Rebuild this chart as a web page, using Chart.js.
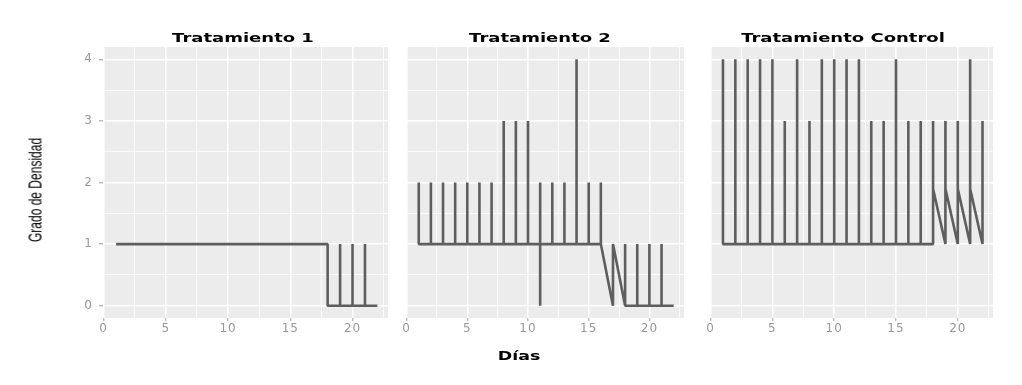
<!DOCTYPE html>
<html>
<head>
<meta charset="utf-8">
<title>Grado de Densidad por tratamiento</title>
<script src="https://cdn.jsdelivr.net/npm/chart.js@4.4.1/dist/chart.umd.min.js"></script>
<style>
  html, body { margin: 0; padding: 0; background: #fff; }
  #wrap { position: relative; width: 1022px; height: 385px; overflow: hidden; }
  canvas { position: absolute; top: 0; }
  .lbl { position: absolute; white-space: nowrap; color: #000; line-height: 16px; }
  .strip { top: 31px; font: bold 12px "DejaVu Sans"; transform: translateX(-50%) scaleX(1.5); }
  #xtitle { left: 519px; top: 349px; font: bold 12px "DejaVu Sans"; transform: translateX(-50%) scaleX(1.45); }
  #ytitle { left: 35px; top: 190px; font: 12px "Liberation Sans"; transform: translate(-50%, -50%) rotate(-90deg) scaleY(1.5); }
</style>
</head>
<body>
<div id="wrap">
  <canvas id="p1" width="400" height="385" style="left:0px"></canvas>
  <canvas id="p2" width="308" height="385" style="left:394px"></canvas>
  <canvas id="p3" width="310" height="385" style="left:698px"></canvas>
  <div class="lbl strip" style="left:243px">Tratamiento 1</div>
  <div class="lbl strip" style="left:540px">Tratamiento 2</div>
  <div class="lbl strip" style="left:843px">Tratamiento Control</div>
  <div class="lbl" id="xtitle">Días</div>
  <div class="lbl" id="ytitle">Grado de Densidad</div>
</div>
<script>
// etiquetas de los ejes
var xTicks = [0, 5, 10, 15, 20];
var yTicks = [0, 1, 2, 3, 4];

// Tratamiento 1
var t1Days = [1, 2, 3, 4, 5, 6, 7, 8, 9, 10, 11, 12, 13, 14, 15, 16, 17, 18, 18,
              19, 19, 19, 20, 20, 20, 21, 21, 21, 22];
var t1Vals = [1, 1, 1, 1, 1, 1, 1, 1, 1, 1, 1, 1, 1, 1, 1, 1, 1, 1, 0,
              0, 1, 0, 0, 1, 0, 0, 1, 0, 0];

// Tratamiento 2
var t2Days = [1, 1, 1, 2, 2, 2, 3, 3, 3, 4, 4, 4, 5, 5, 5, 6, 6, 6, 7, 7, 7,
              8, 8, 8, 9, 9, 9, 10, 10, 10, 11, 11, 11, 11, 12, 12, 12, 13, 13, 13,
              14, 14, 14, 15, 15, 15, 16, 16, 16, 17, 17, 18, 18, 18,
              19, 19, 19, 20, 20, 20, 21, 21, 21, 22];
var t2Vals = [1, 2, 1, 1, 2, 1, 1, 2, 1, 1, 2, 1, 1, 2, 1, 1, 2, 1, 1, 2, 1,
              1, 3, 1, 1, 3, 1, 1, 3, 1, 1, 2, 0, 1, 1, 2, 1, 1, 2, 1,
              1, 4, 1, 1, 2, 1, 1, 2, 1, 0, 1, 0, 1, 0,
              0, 1, 0, 0, 1, 0, 0, 1, 0, 0];

// Tratamiento Control
var tcDays = [1, 1, 1, 2, 2, 2, 3, 3, 3, 4, 4, 4, 5, 5, 5, 6, 6, 6, 7, 7, 7,
              8, 8, 8, 9, 9, 9, 10, 10, 10, 11, 11, 11, 12, 12, 12, 13, 13, 13,
              14, 14, 14, 15, 15, 15, 16, 16, 16, 17, 17, 17,
              18, 18, 18, 19, 19, 19, 20, 20, 20, 21, 21, 21, 22, 22];
var tcVals = [1, 4, 1, 1, 4, 1, 1, 4, 1, 1, 4, 1, 1, 4, 1, 1, 3, 1, 1, 4, 1,
              1, 3, 1, 1, 4, 1, 1, 4, 1, 1, 4, 1, 1, 4, 1, 1, 3, 1,
              1, 3, 1, 1, 4, 1, 1, 3, 1, 1, 3, 1,
              1, 3, 1.9, 1, 3, 1.9, 1, 3, 1.9, 1, 4, 1.9, 1, 3];

// fondo gris del panel
var panelBg = {
    id: 'panelBg',
    beforeDraw: function (chart) {
        var a = chart.chartArea;
        var ctx = chart.ctx;
        ctx.save();
        ctx.fillStyle = '#ececec';
        ctx.fillRect(a.left, a.top, a.right - a.left, a.bottom - a.top);
        ctx.restore();
        ctx.letterSpacing = '1px';
    }
};

function isMajor(v) {
    return Math.abs(v - Math.round(v)) < 1e-6;
}

function makePanel(id, days, vals, withY, padL, padR) {
    var points = [];
    for (var i = 0; i < days.length; i++) {
        points.push({x: days[i], y: vals[i]});
    }
    return new Chart(document.getElementById(id), {
        type: 'line',
        data: {
            datasets: [{
                data: points,
                borderColor: '#5e5e5e',
                borderWidth: 2.6,
                borderJoinStyle: 'bevel',
                pointRadius: 0,
                tension: 0,
                fill: false
            }]
        },
        options: {
            responsive: false,
            animation: false,
            events: [],
            layout: {padding: {top: 47, left: padL, right: padR, bottom: 0}},
            plugins: {legend: {display: false}, tooltip: {enabled: false}},
            scales: {
                x: {
                    type: 'linear',
                    min: -0.05,
                    max: 22.85,
                    afterBuildTicks: function (s) {
                        s.ticks = [];
                        for (var v = 0; v <= 22.5; v += 2.5) s.ticks.push({value: v});
                    },
                    afterFit: function (s) { s.height = 67; },
                    ticks: {
                        autoSkip: false,
                        maxRotation: 0,
                        padding: 1,
                        color: '#999999',
                        font: {family: 'DejaVu Sans', size: 12},
                        callback: function (v) { return xTicks.indexOf(v) >= 0 ? String(v) : ''; }
                    },
                    grid: {
                        color: '#ffffff',
                        lineWidth: function (c) { return c.tick && c.tick.value % 5 === 0 ? 1.6 : 0.8; },
                        tickLength: 3,
                        tickWidth: 1,
                        tickColor: function (c) { return c.tick && c.tick.value % 5 === 0 ? '#a0a0a0' : 'rgba(0,0,0,0)'; }
                    },
                    border: {display: false}
                },
                y: {
                    type: 'linear',
                    min: -0.2,
                    max: 4.2,
                    afterBuildTicks: function (s) {
                        s.ticks = [];
                        for (var v = 0; v <= 4; v += 0.5) s.ticks.push({value: v});
                    },
                    afterFit: function (s) { s.width = withY ? 103 : 0; },
                    ticks: {
                        display: withY,
                        padding: 6,
                        color: '#999999',
                        font: {family: 'DejaVu Sans', size: 12},
                        callback: function (v) { return yTicks.indexOf(v) >= 0 ? String(v) : ''; }
                    },
                    grid: {
                        color: '#ffffff',
                        drawTicks: withY,
                        lineWidth: function (c) { return c.tick && isMajor(c.tick.value) ? 1.6 : 0.8; },
                        tickLength: 4,
                        tickWidth: 1,
                        tickColor: function (c) { return c.tick && isMajor(c.tick.value) ? '#a0a0a0' : 'rgba(0,0,0,0)'; }
                    },
                    border: {display: false}
                }
            }
        },
        plugins: [panelBg]
    });
}

makePanel('p1', t1Days, t1Vals, true, 0, 12);
makePanel('p2', t2Days, t2Vals, false, 12, 18);
makePanel('p3', tcDays, tcVals, false, 12, 15);
</script>
</body>
</html>
